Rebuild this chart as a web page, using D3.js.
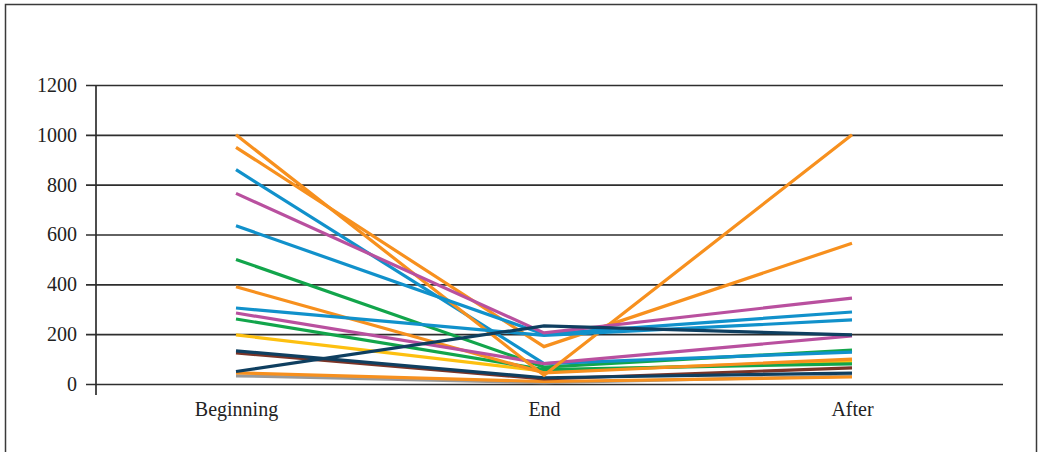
<!DOCTYPE html>
<html>
<head>
<meta charset="utf-8">
<script src="https://cdn.jsdelivr.net/npm/d3@7/dist/d3.min.js"></script>
<style>
  html, body { margin: 0; padding: 0; background: #fff; }
  svg { display: block; }
  text { font-family: "Liberation Serif", "Times New Roman", serif; }
</style>
</head>
<body>
<svg id="chart" width="1041" height="452"></svg>
<script>
// Time points
const stages = ["Beginning", "End", "After"];

// Value axis ticks
const yTicks = [0, 200, 400, 600, 800, 1000, 1200];

// One array per tracked item: [Beginning, End, After]
const orangeA  = [1000, 35, 1000];
const orangeB  = [950, 150, 565];
const orangeC  = [390, 45, 100];
const orangeD  = [45, 10, 28];
const grayA    = [33, 5, 32];
const brownA   = [125, 20, 65];
const greenA   = [500, 68, 136];
const greenB   = [261, 58, 81];
const yellowA  = [197, 52, 92];
const blueA    = [860, 82, 128];
const blueB    = [635, 200, 289];
const blueC    = [305, 195, 257];
const magentaA = [765, 205, 345];
const magentaB = [285, 82, 193];
const navyA    = [133, 25, 44];
const navyB    = [50, 233, 197];

const seriesList = [
  { values: grayA,    color: "#9a9a9a" },
  { values: orangeD,  color: "#f7901e" },
  { values: brownA,   color: "#7b3427" },
  { values: navyA,    color: "#0f3f60" },
  { values: yellowA,  color: "#fdc010" },
  { values: greenB,   color: "#12a54b" },
  { values: greenA,   color: "#12a54b" },
  { values: orangeC,  color: "#f7901e" },
  { values: blueA,    color: "#1191cb" },
  { values: magentaB, color: "#b9509f" },
  { values: orangeA,  color: "#f7901e" },
  { values: orangeB,  color: "#f7901e" },
  { values: blueC,    color: "#1191cb" },
  { values: blueB,    color: "#1191cb" },
  { values: magentaA, color: "#b9509f" },
  { values: navyB,    color: "#0f3f60" }
];

const svg = d3.select("#chart");

// Outer frame
svg.append("rect")
  .attr("x", 5.5).attr("y", 4.5)
  .attr("width", 1031).attr("height", 460)
  .attr("fill", "none").attr("stroke", "#3a3a3a").attr("stroke-width", 1.5);

const plotLeft = 96, plotRight = 1003, plotTop = 85, plotBottom = 384;

const x = d3.scalePoint().domain(stages).range([236, 852]);
const y = d3.scaleLinear().domain([0, 1200]).range([plotBottom, plotTop]);

// Horizontal gridlines with the left tick stubs
const grid = svg.append("g")
  .attr("transform", `translate(${plotLeft},0)`)
  .call(d3.axisLeft(y).tickValues(yTicks).tickSize(-(plotRight - plotLeft)).tickFormat(""));
grid.select(".domain").remove();
grid.selectAll(".tick line")
  .attr("x1", -10)
  .attr("stroke", "#2e2e2e").attr("stroke-width", 1.7);

// Value axis labels
const yAxis = svg.append("g")
  .attr("transform", `translate(${plotLeft},0)`)
  .call(d3.axisLeft(y).tickValues(yTicks).tickSize(0).tickPadding(19).tickFormat(d3.format("d")));
yAxis.select(".domain").remove();
yAxis.selectAll("text")
  .attr("font-size", 20).attr("fill", "#222")
  .style("font-family", "'Liberation Serif', serif");

// Vertical axis line, running a little below zero
svg.append("line")
  .attr("x1", plotLeft).attr("x2", plotLeft)
  .attr("y1", plotTop).attr("y2", plotBottom + 11)
  .attr("stroke", "#2e2e2e").attr("stroke-width", 1.7);

// Category labels
const xAxis = svg.append("g")
  .attr("transform", `translate(0,${plotBottom})`)
  .call(d3.axisBottom(x).tickSize(0).tickPadding(18));
xAxis.select(".domain").remove();
xAxis.selectAll("text")
  .attr("font-size", 20).attr("fill", "#222")
  .style("font-family", "'Liberation Serif', serif");

// Series lines
const line = d3.line()
  .x((d, i) => x(stages[i]))
  .y(d => y(d));

svg.append("g").selectAll("path")
  .data(seriesList)
  .join("path")
  .attr("d", d => line(d.values))
  .attr("fill", "none")
  .attr("stroke", d => d.color)
  .attr("stroke-width", 3.2)
  .attr("stroke-linejoin", "miter");
</script>
</body>
</html>
